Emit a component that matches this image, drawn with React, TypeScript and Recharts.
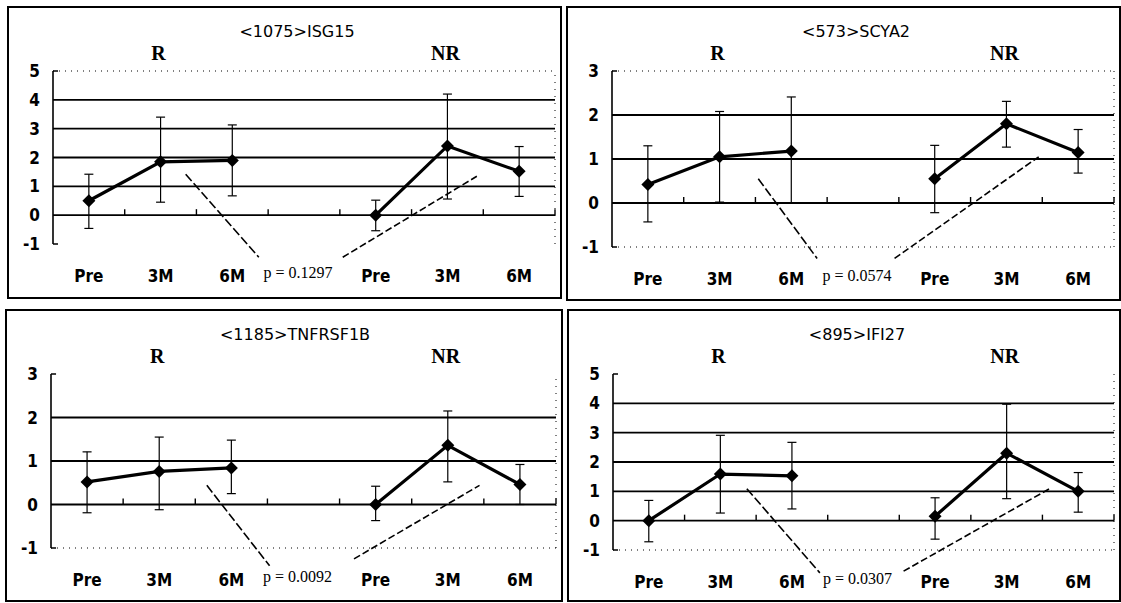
import React from "react";
import { LineChart, Line, XAxis, YAxis, ErrorBar, ReferenceLine, ReferenceDot } from "recharts";

const timepoints = ["Pre", "3M", "6M"];
const groups = ["R", "NR"];

// <1075>ISG15
const isg15Title = "<1075>ISG15";
const isg15P = "p = 0.1297";
const isg15YTicks = [-1, 0, 1, 2, 3, 4, 5];
const isg15RMean = [0.5, 1.85, 1.9];
const isg15RLow = [0.96, 1.4, 1.23];
const isg15RHigh = [0.92, 1.55, 1.23];
const isg15NRMean = [0, 2.4, 1.52];
const isg15NRLow = [0.54, 1.84, 0.87];
const isg15NRHigh = [0.52, 1.8, 0.86];

// <573>SCYA2
const scya2Title = "<573>SCYA2";
const scya2P = "p = 0.0574";
const scya2YTicks = [-1, 0, 1, 2, 3];
const scya2RMean = [0.42, 1.05, 1.18];
const scya2RLow = [0.85, 1.03, 1.18];
const scya2RHigh = [0.88, 1.03, 1.23];
const scya2NRMean = [0.55, 1.8, 1.15];
const scya2NRLow = [0.77, 0.53, 0.47];
const scya2NRHigh = [0.76, 0.51, 0.52];

// <1185>TNFRSF1B
const tnfTitle = "<1185>TNFRSF1B";
const tnfP = "p = 0.0092";
const tnfYTicks = [-1, 0, 1, 2, 3];
const tnfRMean = [0.52, 0.76, 0.84];
const tnfRLow = [0.71, 0.88, 0.59];
const tnfRHigh = [0.69, 0.79, 0.64];
const tnfNRMean = [0, 1.36, 0.46];
const tnfNRLow = [0.37, 0.84, 0.46];
const tnfNRHigh = [0.42, 0.79, 0.46];

// <895>IFI27
const ifiTitle = "<895>IFI27";
const ifiP = "p = 0.0307";
const ifiYTicks = [-1, 0, 1, 2, 3, 4, 5];
const ifiRMean = [0, 1.59, 1.53];
const ifiRLow = [0.72, 1.33, 1.13];
const ifiRHigh = [0.69, 1.32, 1.14];
const ifiNRMean = [0.15, 2.3, 1.0];
const ifiNRLow = [0.78, 1.55, 0.71];
const ifiNRHigh = [0.63, 1.67, 0.64];

const SLOTS = 7;
const slotTicks = Array.from({ length: SLOTS }, (_, i) => i + 0.5);
const groupCenters = [1.5, 5.5];

function buildSeries(g: number, mean: number[], low: number[], high: number[]) {
  return timepoints.map((t, i) => ({
    x: g * 4 + i + 0.5,
    label: t,
    y: mean[i],
    err: [low[i], high[i]],
  }));
}

const SANS = "'DejaVu Sans Condensed', 'DejaVu Sans', sans-serif";
const SERIF = "'Liberation Serif', 'DejaVu Serif', serif";

const Diamond = (props: any) => {
  const { cx, cy, index } = props;
  if (cx == null || cy == null) return <g key={index} />;
  const s = 6.5;
  return (
    <polygon
      key={index}
      points={`${cx},${cy - s} ${cx + s},${cy} ${cx},${cy + s} ${cx - s},${cy}`}
      fill="#000"
    />
  );
};

const ZeroAxis = (props: any) => {
  const { x1, y1, x2, y2 } = props;
  const ticks = [];
  for (let k = 1; k <= SLOTS; k++) {
    const x = x1 + ((x2 - x1) * k) / SLOTS;
    ticks.push(<line key={k} x1={x} x2={x} y1={y1} y2={y1 - 6} stroke="#000" strokeWidth={1.4} />);
  }
  return (
    <g>
      <line x1={x1} y1={y1} x2={x2} y2={y2} stroke="#000" strokeWidth={1.8} />
      {ticks}
    </g>
  );
};

const makeBottomTick = (pText: string) => (props: any) => {
  const { x, y, index } = props;
  if (index === 3) {
    return (
      <text x={x - 6} y={y + 34} textAnchor="middle" fontFamily={SERIF} fontSize={16} fill="#000">
        {pText}
      </text>
    );
  }
  const label = timepoints[index < 3 ? index : index - 4];
  return (
    <text x={x} y={y + 38} textAnchor="middle" fontFamily={SANS} fontWeight="bold" fontSize={17} fill="#000">
      {label}
    </text>
  );
};

const makeGroupLabel = (text: string) => (props: any) => {
  const { cx, cy } = props;
  return (
    <text x={cx - 2} y={cy - 11} textAnchor="middle" fontFamily={SERIF} fontWeight="bold" fontSize={20} fill="#000">
      {text}
    </text>
  );
};

type Conn = { x: number; y: number }[];

type PanelProps = {
  left: number;
  top: number;
  width: number;
  height: number;
  bottomPad: number;
  title: string;
  p: string;
  yTicks: number[];
  rMean: number[];
  rLow: number[];
  rHigh: number[];
  nrMean: number[];
  nrLow: number[];
  nrHigh: number[];
  connA: Conn;
  connB: Conn;
  topDotted: boolean;
  bottomDotted: boolean;
};

const Panel = (pp: PanelProps) => {
  const yMin = pp.yTicks[0];
  const yMax = pp.yTicks[pp.yTicks.length - 1];
  const rData = buildSeries(0, pp.rMean, pp.rLow, pp.rHigh);
  const nrData = buildSeries(1, pp.nrMean, pp.nrLow, pp.nrHigh);
  const solidGrid = pp.yTicks.filter((v) => v > 0 && v < yMax);
  const BottomTick = makeBottomTick(pp.p);
  return (
    <div style={{ position: "absolute", left: pp.left, top: pp.top, width: pp.width, height: pp.height }}>
      <LineChart width={pp.width} height={pp.height} margin={{ top: 65, right: 7, bottom: 0, left: 0 }}>
        <XAxis
          dataKey="x"
          type="number"
          domain={[0, SLOTS]}
          ticks={slotTicks}
          interval={0}
          height={pp.bottomPad}
          axisLine={false}
          tickLine={false}
          tickSize={0}
          tickMargin={0}
          tick={<BottomTick />}
        />
        <YAxis
          type="number"
          domain={[yMin, yMax]}
          ticks={pp.yTicks}
          interval={0}
          width={46}
          axisLine={{ stroke: "#000", strokeWidth: 1.6 }}
          tickLine={false}
          tickSize={0}
          tickMargin={13}
          tick={{ fontFamily: SANS, fontWeight: "bold", fontSize: 17, fill: "#000" }}
        />
        {solidGrid.map((v) => (
          <ReferenceLine key={v} y={v} stroke="#000" strokeWidth={1.8} />
        ))}
        {pp.topDotted && <ReferenceLine y={yMax} stroke="#000" strokeWidth={1} strokeDasharray="1 5" />}
        {pp.bottomDotted && <ReferenceLine y={yMin} stroke="#000" strokeWidth={1} strokeDasharray="1 5" />}
        <ReferenceLine x={SLOTS} stroke="#000" strokeWidth={1} strokeDasharray="1 6" />
        <ReferenceLine segment={[{ x: 0, y: yMax }, { x: 0.07, y: yMax }]} stroke="#000" strokeWidth={1.5} />
        <ReferenceLine segment={[{ x: 0, y: yMin }, { x: 0.07, y: yMin }]} stroke="#000" strokeWidth={1.5} />
        <ReferenceLine y={0} shape={ZeroAxis} />
        <ReferenceLine segment={pp.connA} stroke="#000" strokeWidth={1.6} strokeDasharray="9 3" ifOverflow="visible" />
        <ReferenceLine segment={pp.connB} stroke="#000" strokeWidth={1.6} strokeDasharray="7 3" ifOverflow="visible" />
        {groups.map((g, i) => (
          <ReferenceDot
            key={g}
            x={groupCenters[i]}
            y={yMax}
            r={0}
            ifOverflow="visible"
            shape={makeGroupLabel(g)}
          />
        ))}
        <Line
          data={rData}
          dataKey="y"
          stroke="#000"
          strokeWidth={3.2}
          dot={<Diamond />}
          activeDot={false}
          isAnimationActive={false}
        >
          <ErrorBar dataKey="err" direction="y" width={4.5} stroke="#000" strokeWidth={1.2} />
        </Line>
        <Line
          data={nrData}
          dataKey="y"
          stroke="#000"
          strokeWidth={3.2}
          dot={<Diamond />}
          activeDot={false}
          isAnimationActive={false}
        >
          <ErrorBar dataKey="err" direction="y" width={4.5} stroke="#000" strokeWidth={1.2} />
        </Line>
      </LineChart>
      <svg
        width={pp.width}
        height={pp.height}
        style={{ position: "absolute", left: 0, top: 0, pointerEvents: "none" }}
      >
        <text x={290} y={31} textAnchor="middle" fontFamily="'DejaVu Sans', sans-serif" fontSize={16} fill="#000">
          {pp.title}
        </text>
      </svg>
      <div
        style={{
          position: "absolute",
          left: 0,
          top: 0,
          width: pp.width,
          height: pp.height,
          border: "2px solid #000",
          boxSizing: "border-box",
          pointerEvents: "none",
        }}
      />
    </div>
  );
};

export default function App() {
  return (
    <div
      style={{
        position: "absolute",
        left: 0,
        top: 0,
        width: 1121,
        height: 603,
        background: "#fff",
        overflow: "hidden",
      }}
    >
      <Panel
        left={7}
        top={6}
        width={555}
        height={293}
        bottomPad={55}
        title={isg15Title}
        p={isg15P}
        yTicks={isg15YTicks}
        rMean={isg15RMean}
        rLow={isg15RLow}
        rHigh={isg15RHigh}
        nrMean={isg15NRMean}
        nrLow={isg15NRLow}
        nrHigh={isg15NRHigh}
        connA={[{ x: 1.85, y: 1.42 }, { x: 2.87, y: -1.46 }]}
        connB={[{ x: 4.04, y: -1.46 }, { x: 5.91, y: 1.35 }]}
        topDotted={true}
        bottomDotted={false}
      />
      <Panel
        left={566}
        top={6}
        width={555}
        height={295}
        bottomPad={54}
        title={scya2Title}
        p={scya2P}
        yTicks={scya2YTicks}
        rMean={scya2RMean}
        rLow={scya2RLow}
        rHigh={scya2RHigh}
        nrMean={scya2NRMean}
        nrLow={scya2NRLow}
        nrHigh={scya2NRHigh}
        connA={[{ x: 2.04, y: 0.55 }, { x: 2.86, y: -1.26 }]}
        connB={[{ x: 3.94, y: -1.26 }, { x: 5.95, y: 1.05 }]}
        topDotted={true}
        bottomDotted={true}
      />
      <Panel
        left={5}
        top={309}
        width={558}
        height={293}
        bottomPad={54}
        title={tnfTitle}
        p={tnfP}
        yTicks={tnfYTicks}
        rMean={tnfRMean}
        rLow={tnfRLow}
        rHigh={tnfRHigh}
        nrMean={tnfNRMean}
        nrLow={tnfNRLow}
        nrHigh={tnfNRHigh}
        connA={[{ x: 2.16, y: 0.44 }, { x: 3.03, y: -1.41 }]}
        connB={[{ x: 4.2, y: -1.25 }, { x: 5.94, y: 0.44 }]}
        topDotted={false}
        bottomDotted={true}
      />
      <Panel
        left={567}
        top={309}
        width={554}
        height={293}
        bottomPad={52}
        title={ifiTitle}
        p={ifiP}
        yTicks={ifiYTicks}
        rMean={ifiRMean}
        rLow={ifiRLow}
        rHigh={ifiRHigh}
        nrMean={ifiNRMean}
        nrLow={ifiNRLow}
        nrHigh={ifiNRHigh}
        connA={[{ x: 1.87, y: 1.09 }, { x: 2.89, y: -1.78 }]}
        connB={[{ x: 4.06, y: -1.72 }, { x: 6.1, y: 1.09 }]}
        topDotted={false}
        bottomDotted={true}
      />
    </div>
  );
}
